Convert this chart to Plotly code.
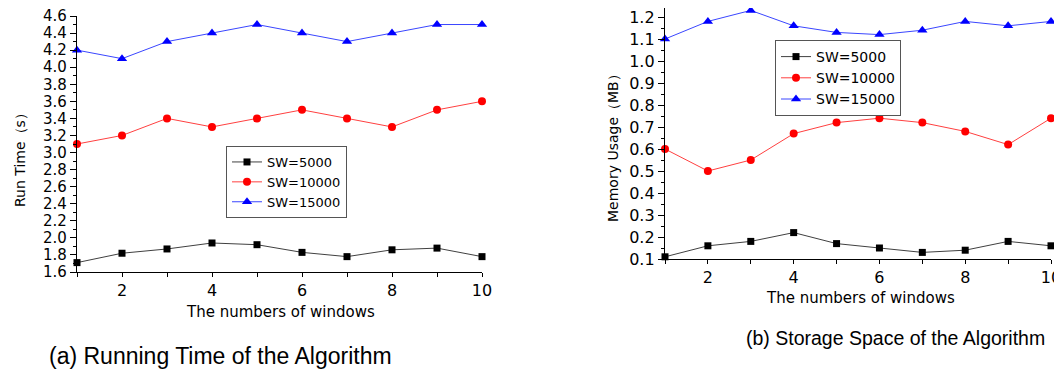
import plotly.graph_objects as go

windows = [1, 2, 3, 4, 5, 6, 7, 8, 9, 10]
series_names = ["SW=5000", "SW=10000", "SW=15000"]

run_time_5000 = [1.71, 1.82, 1.87, 1.94, 1.92, 1.83, 1.78, 1.86, 1.88, 1.78]
run_time_10000 = [3.1, 3.2, 3.4, 3.3, 3.4, 3.5, 3.4, 3.3, 3.5, 3.6]
run_time_15000 = [4.2, 4.1, 4.3, 4.4, 4.5, 4.4, 4.3, 4.4, 4.5, 4.5]

memory_5000 = [0.11, 0.16, 0.18, 0.22, 0.17, 0.15, 0.13, 0.14, 0.18, 0.16]
memory_10000 = [0.60, 0.50, 0.55, 0.67, 0.72, 0.74, 0.72, 0.68, 0.62, 0.74]
memory_15000 = [1.10, 1.18, 1.23, 1.16, 1.13, 1.12, 1.14, 1.18, 1.16, 1.18]

x_title = "The numbers of windows"
y_title_a = "Run Time（s）"
y_title_b = "Memory Usage（MB）"
caption_a = "(a) Running Time of the Algorithm"
caption_b = "(b) Storage Space of the Algorithm"

# the page body has an 8px default margin; the figure is sized so it fills the window
OFF = 8
W, H = 1062 - OFF, 374 - OFF
FONT = "DejaVu Sans"

styles = [
    dict(line=dict(color="#404040", width=1), marker=dict(symbol="square", size=7, color="#000000")),
    dict(line=dict(color="#ff4040", width=1), marker=dict(symbol="circle", size=8, color="#ff0000")),
    dict(line=dict(color="#3a46ff", width=1), marker=dict(symbol="triangle-up", size=9, color="#0000ff")),
]

fig = go.Figure()
for name, vals, st in zip(series_names, [run_time_5000, run_time_10000, run_time_15000], styles):
    fig.add_trace(go.Scatter(x=windows, y=vals, name=name, mode="lines+markers",
                             line=st["line"], marker=st["marker"], cliponaxis=False,
                             xaxis="x", yaxis="y", legend="legend"))
for name, vals, st in zip(series_names, [memory_5000, memory_10000, memory_15000], styles):
    fig.add_trace(go.Scatter(x=windows, y=vals, name=name, mode="lines+markers",
                             line=st["line"], marker=st["marker"], cliponaxis=False,
                             xaxis="x2", yaxis="y2", legend="legend2"))


def px_x(p):
    return min(1.0, max(0.0, (p - OFF) / W))


def px_y(p):
    return min(1.0, max(0.0, 1 - (p - OFF) / H))


axis_common = dict(showline=True, linecolor="black", linewidth=1.3, showgrid=False, zeroline=False,
                   ticks="outside", tickcolor="black", tickwidth=1, automargin=False,
                   ticklabeloverflow="allow")

fig.update_layout(
    width=W, height=H,
    margin=dict(l=0, r=0, t=0, b=0),
    paper_bgcolor="white", plot_bgcolor="white",
    font=dict(family=FONT, color="black"),
    xaxis=dict(domain=[px_x(77), px_x(482)], anchor="y", range=[1, 10], tick0=0, dtick=2, ticklen=4,
               tickfont=dict(family=FONT, size=16, color="black"),
               minor=dict(dtick=1, ticks="outside", ticklen=4, tickcolor="black"), **axis_common),
    yaxis=dict(domain=[px_y(272), px_y(16)], anchor="x", range=[1.6, 4.6], tick0=1.6, dtick=0.2,
               tickformat=".1f", ticklen=6, tickfont=dict(family=FONT, size=15, color="black"),
               minor=dict(dtick=0.1, ticks="outside", ticklen=3, tickcolor="black"), **axis_common),
    xaxis2=dict(domain=[px_x(665), px_x(1051)], anchor="y2", range=[1, 10], tick0=0, dtick=2, ticklen=4,
                tickfont=dict(family=FONT, size=16, color="black"),
                minor=dict(dtick=1, ticks="outside", ticklen=4, tickcolor="black"), **axis_common),
    yaxis2=dict(domain=[px_y(259), px_y(8)], anchor="x2", range=[0.1, 1.241], tick0=0.1, dtick=0.1,
                tickformat=".1f", ticklen=6, tickfont=dict(family=FONT, size=16, color="black"),
                minor=dict(dtick=0.05, ticks="outside", ticklen=3, tickcolor="black"), **axis_common),
    legend=dict(x=px_x(226), y=px_y(146), xanchor="left", yanchor="top",
                bgcolor="white", bordercolor="#555555", borderwidth=1,
                font=dict(family=FONT, size=13, color="black"), tracegroupgap=0, itemwidth=30),
    legend2=dict(x=px_x(775), y=px_y(40), xanchor="left", yanchor="top",
                 bgcolor="white", bordercolor="#555555", borderwidth=1,
                 font=dict(family=FONT, size=14, color="black"), tracegroupgap=0, itemwidth=30),
    showlegend=True,
)

annos = [
    dict(text=x_title, x=px_x(280), y=px_y(312), font=dict(family=FONT, size=15)),
    dict(text=x_title, x=px_x(860), y=px_y(298), font=dict(family=FONT, size=15)),
    dict(text=y_title_a, x=px_x(20), y=px_y(157), textangle=-90, font=dict(family=FONT, size=14)),
    dict(text=y_title_b, x=px_x(613), y=px_y(145), textangle=-90, font=dict(family=FONT, size=14)),
    dict(text=caption_a, x=px_x(220), y=px_y(356), font=dict(family="Liberation Sans", size=23)),
    dict(text=caption_b, x=px_x(895), y=px_y(338), font=dict(family="Liberation Sans", size=19.5)),
]
for a in annos:
    fig.add_annotation(xref="paper", yref="paper", showarrow=False, xanchor="center", yanchor="middle",
                       **a)

fig.write_html("out.html")
